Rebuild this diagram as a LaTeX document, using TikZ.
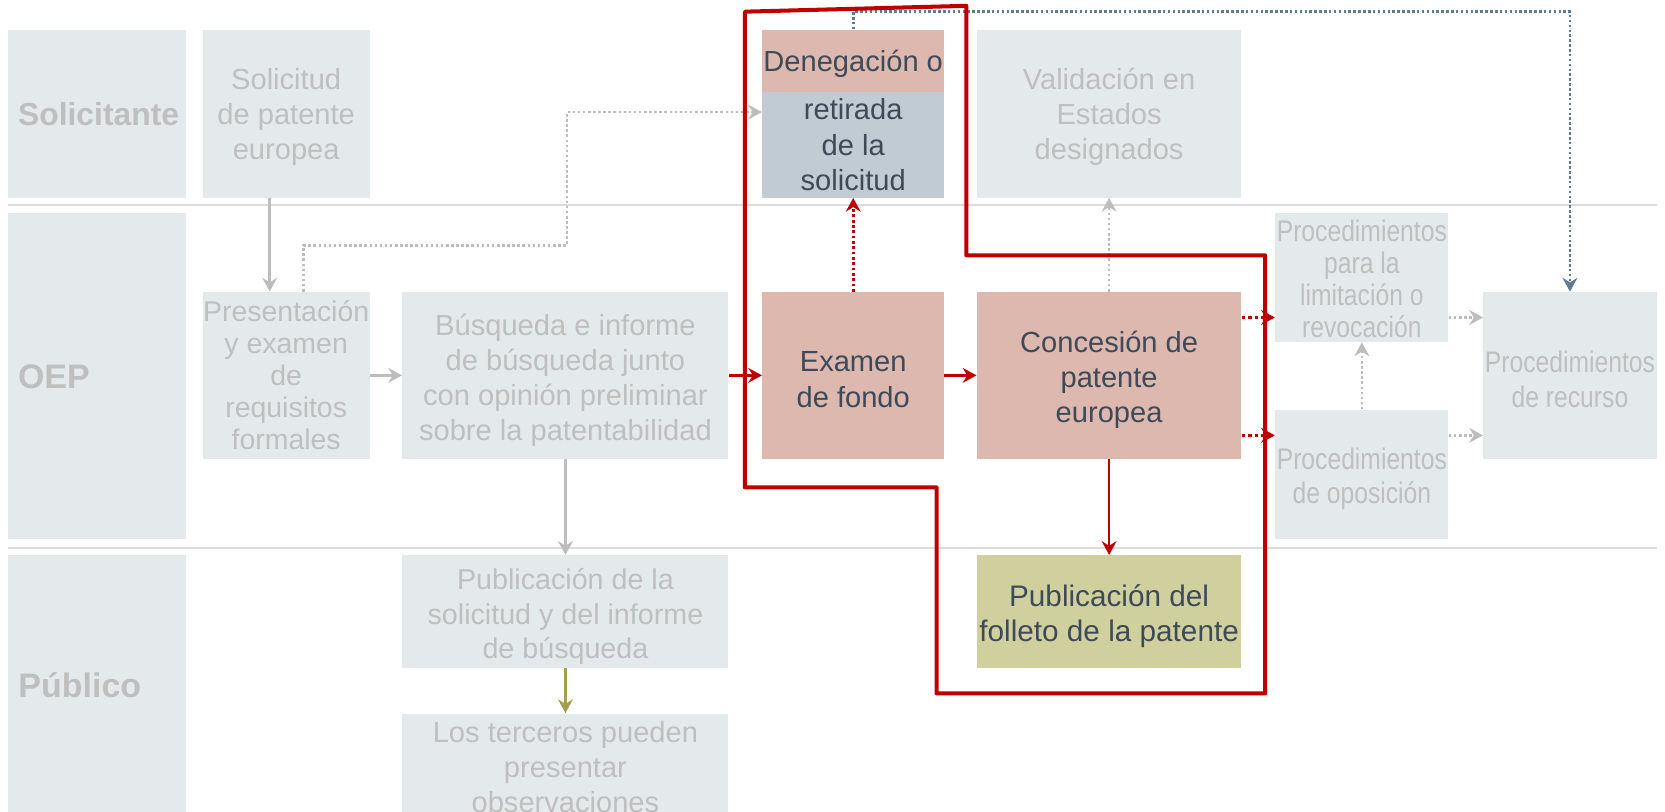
\documentclass[tikz,border=0pt]{standalone}
\usepackage{fontspec}
\setmainfont{Liberation Sans}
\newfontfamily\narrowsans[FakeStretch=0.83]{Liberation Sans}
\usetikzlibrary{arrows.meta}
\definecolor{boxgray}{HTML}{E4E9EB}
\definecolor{txtgray}{HTML}{BFBFBF}
\definecolor{txtdark}{HTML}{3F4A59}
\definecolor{salmon}{HTML}{DDB8AE}
\definecolor{bluegray}{HTML}{C1CBD3}
\definecolor{olivebox}{HTML}{D0D09F}
\definecolor{epored}{HTML}{C00000}
\definecolor{linegray}{HTML}{BDBDBD}
\definecolor{divgray}{HTML}{DCDCDC}
\definecolor{blueline}{HTML}{5F7B92}
\definecolor{olivearrow}{HTML}{A0A050}
\tikzset{
  shape box/.style={rectangle, inner sep=0pt, fill=#1},
  gfill/.style={shape box=boxgray},
  sfill/.style={shape box=salmon},
  bfill/.style={shape box=bluegray},
  ofill/.style={shape box=olivebox},
  gtext/.style={inner sep=0pt, align=center, text=txtgray, font=\fontsize{13.7}{16.5}\selectfont},
  dtext/.style={gtext, text=txtdark},
  ntext/.style={gtext, font=\narrowsans\fontsize{14}{#1}\selectfont},
  lanetext/.style={inner sep=0pt, anchor=west, text=txtgray, font=\bfseries\fontsize{16}{18}\selectfont},
  myhead/.style={-{Stealth[length=6.5pt,width=7pt,inset=2.2pt]}},
  garrow/.style={myhead, draw=linegray, line width=1.2pt},
  rarrow/.style={myhead, draw=epored, line width=1.1pt},
  oarrow/.style={myhead, draw=olivearrow, line width=1.1pt},
  gdot/.style={myhead, draw=linegray, line width=1.2pt, dash pattern=on 1.2pt off 1.2pt},
  rdot/.style={myhead, draw=epored, line width=1.6pt, dash pattern=on 1.7pt off 1.3pt},
  rdotv/.style={myhead, draw=epored, line width=1.3pt, dash pattern=on 1.3pt off 1.2pt},
  bdot/.style={myhead, draw=blueline, line width=1.3pt, dash pattern=on 1.2pt off 1.1pt},
  divider/.style={draw=divgray, line width=1pt},
  outline/.style={draw=epored, line width=1.9pt, line join=round}
}
% #1 fill style, #2 text style, #3 name, #4 x, #5 y, #6 width, #7 height, #8 text shift, #9 text
\newcommand\placebox[9]{%
  \node[#1, minimum width=#6, minimum height=#7] (#3) at (#4,#5) {};
  \node[#2] (#3T) at ([yshift=#8]#3.center) {#9};}
\begin{document}
\begin{tikzpicture}[x=0.5pt,y=-0.5pt]
\useasboundingbox (0,0) rectangle (1568,764);
\clip (0,0) rectangle (1568,764);
\fill[white] (0,0) rectangle (1568,764);

% lane dividers
\draw[divider] (8,193) -- (1560,193);
\draw[divider] (8,516) -- (1560,516);

% lane labels
\node[gfill, minimum width=83.5pt, minimum height=79pt] (lS) at (91.5,107) {};
\node[gfill, minimum width=83.5pt, minimum height=153.5pt] (lO) at (91.5,354.5) {};
\node[gfill, minimum width=83.5pt, minimum height=124.5pt] (lP) at (91.5,647.5) {};
\node[lanetext, font=\bfseries\fontsize{15}{18}\selectfont] (tS) at ([xshift=4.5pt]lS.west) {Solicitante};
\node[lanetext] (tO) at ([xshift=4.5pt]lO.west) {OEP};
\node[lanetext] (tP) at (17,645) {Público};

% boxes
\placebox{gfill}{gtext}{sol}{269.5}{107}{78.5pt}{79pt}{-1.7pt}{Solicitud\\de patente\\europea}
\placebox{gfill}{gtext, font=\fontsize{13.4}{15}\selectfont}{pres}{269.5}{353.5}{78.5pt}{78.5pt}{0pt}{Presentación\\y examen\\de\\requisitos\\formales}
\placebox{gfill}{gtext}{bus}{532.5}{353.5}{153.5pt}{78.5pt}{-2.3pt}{Búsqueda e informe\\de búsqueda junto\\con opinión preliminar\\sobre la patentabilidad}
\placebox{sfill}{dtext}{exa}{803.5}{353.5}{85.5pt}{78.5pt}{-2pt}{Examen\\de fondo}
\placebox{sfill}{dtext}{con}{1044.5}{353.5}{124.5pt}{78.5pt}{-2.3pt}{Concesión de\\patente\\europea}
\placebox{sfill}{dtext}{denA}{803.5}{57.5}{85.5pt}{29.5pt}{-1.5pt}{Denegación o}
\placebox{bfill}{dtext, font=\fontsize{13.7}{16.75}\selectfont}{denB}{803.5}{136.5}{85.5pt}{49.5pt}{0pt}{retirada\\de la\\solicitud}
\placebox{gfill}{gtext}{val}{1044.5}{107}{124.5pt}{79pt}{-1.5pt}{Validación en\\Estados\\designados}
\placebox{gfill}{ntext=15}{lim}{1282.5}{261.5}{81.5pt}{60.5pt}{-0.5pt}{Procedimientos\\para la\\limitación o\\revocación}
\placebox{gfill}{ntext=16}{opo}{1282.5}{447}{81.5pt}{61pt}{-2pt}{Procedimientos\\de oposición}
\placebox{gfill}{ntext=16.5}{rec}{1478.5}{353.5}{81.5pt}{78.5pt}{-1.7pt}{Procedimientos\\de recurso}
\placebox{gfill}{gtext, font=\fontsize{13.5}{16.25}\selectfont}{pubsol}{532.5}{576}{153.5pt}{53pt}{-2.3pt}{Publicación de la\\solicitud y del informe\\de búsqueda}
\placebox{gfill}{gtext}{ter}{532.5}{722}{153.5pt}{50pt}{0pt}{Los terceros pueden\\presentar\\observaciones}
\placebox{ofill}{dtext, font=\fontsize{14}{16.5}\selectfont}{fol}{1044.5}{576}{124.5pt}{53pt}{-2.3pt}{Publicación del\\folleto de la patente}

% helper coordinates
\coordinate (xa) at (254,0);
\coordinate (g1) at (286,231);
\coordinate (g2) at (534,231);
\coordinate (gy) at (0,105.5);
\coordinate (ya) at (0,299);
\coordinate (yb) at (0,410);
\coordinate (yt) at (0,11);

% connectors
\draw[garrow] (sol.south -| xa) -- (pres.north -| xa);
\draw[gdot] (pres.north -| g1) -- (g1) -- (g2) -- (g2 |- gy) -- (denB.west |- gy);
\draw[garrow] (pres.east) -- (bus.west);
\draw[rarrow] (bus.east) -- (exa.west);
\draw[rarrow] (exa.east) -- (con.west);
\draw[rdotv] (exa.north) -- (denB.south);
\draw[gdot] (con.north) -- (val.south);
\draw[rdot] (con.east |- ya) -- (lim.west |- ya);
\draw[rdot] (con.east |- yb) -- (opo.west |- yb);
\draw[gdot] (lim.east |- ya) -- (rec.west |- ya);
\draw[gdot] (opo.east |- yb) -- (rec.west |- yb);
\draw[gdot] (opo.north) -- (lim.south);
\draw[bdot] (denA.north) -- (denA.north |- yt) -- (rec.north |- yt) -- (rec.north);
\draw[garrow] (bus.south) -- (pubsol.north);
\draw[oarrow] (pubsol.south) -- (ter.north);
\draw[rarrow] (con.south) -- (fol.north);

% red highlight outline
\draw[outline] (701.5,11) -- (910,5.5) -- (910,240.5) -- (1191.5,240.5) -- (1191.5,653) -- (882,653) -- (882,459) -- (701.5,459) -- cycle;
\end{tikzpicture}
\end{document}
